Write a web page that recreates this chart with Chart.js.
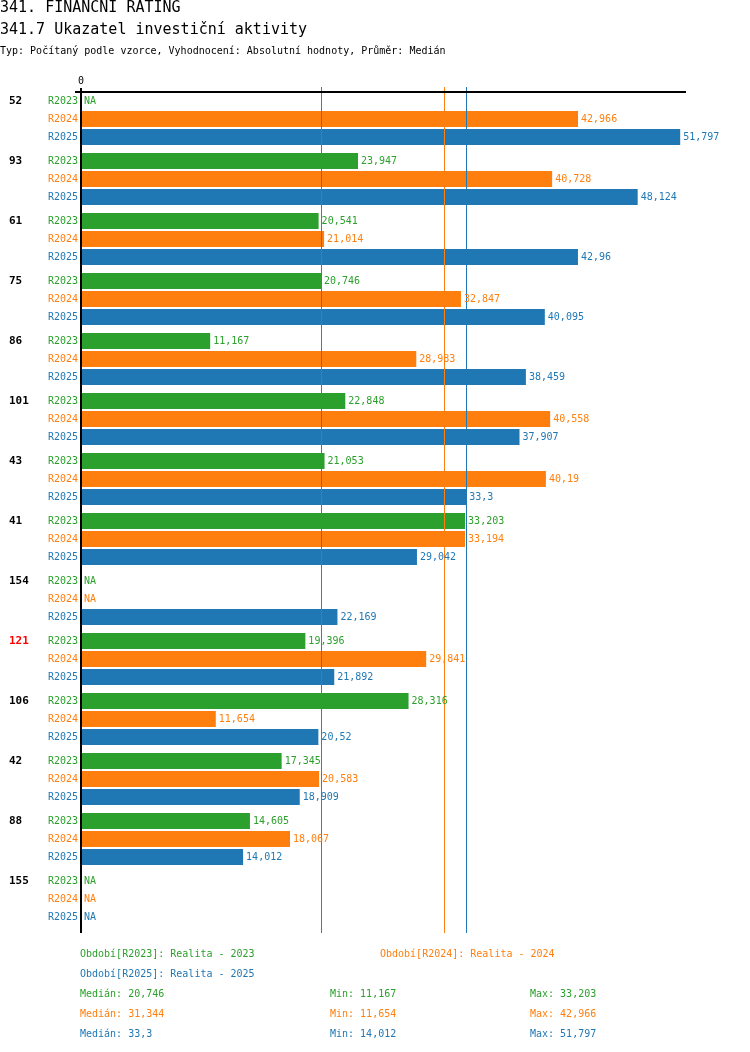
<!DOCTYPE html>
<html>
<head>
<meta charset="utf-8">
<script src="https://cdn.jsdelivr.net/npm/chart.js@4"></script>
<style>
    body { margin: 0; background: #fff; }
    #wrap { position: relative; width: 750px; height: 1052px; }
    #c { position: absolute; left: 0; top: 0; }
</style>
</head>
<body>
<div id="wrap"><canvas id="c" width="750" height="1052"></canvas></div>
<script>
/* data */
const groups = ['52', '93', '61', '75', '86', '101', '43', '41', '154', '121', '106', '42', '88', '155'];
const highlight = '121';
const seriesNames = ['R2023', 'R2024', 'R2025'];
const r2023 = [null, 23.947, 20.541, 20.746, 11.167, 22.848, 21.053, 33.203, null, 19.396, 28.316, 17.345, 14.605, null];
const r2024 = [42.966, 40.728, 21.014, 32.847, 28.983, 40.558, 40.19, 33.194, null, 29.841, 11.654, 20.583, 18.067, null];
const r2025 = [51.797, 48.124, 42.96, 40.095, 38.459, 37.907, 33.3, 29.042, 22.169, 21.892, 20.52, 18.909, 14.012, null];
const medians = [20.746, 31.344, 33.3];
const mins = [11.167, 11.654, 14.012];
const maxs = [33.203, 42.966, 51.797];
const periodTexts = ['Období[R2023]: Realita - 2023', 'Období[R2024]: Realita - 2024', 'Období[R2025]: Realita - 2025'];
const colors = ['#2ca02c', '#ff7f0e', '#1f77b4'];

const fmt = (v) => String(v).replace('.', ',');
const mono = 'DejaVu Sans Mono, monospace';

const overlay = {
    id: 'overlay',
    afterDraw(chart) {
        const ctx = chart.ctx;
        const x = chart.scales.x, y = chart.scales.y;
        const area = chart.chartArea;
        ctx.save();
        // titles
        ctx.fillStyle = '#000';
        ctx.textBaseline = 'middle';
        ctx.textAlign = 'left';
        ctx.font = '15px ' + mono;
        ctx.fillText('341. FINANČNÍ RATING', 0, 8);
        ctx.fillText('341.7 Ukazatel investiční aktivity', 0, 30);
        ctx.font = '10px ' + mono;
        ctx.fillText('Typ: Počítaný podle vzorce, Vyhodnocení: Absolutní hodnoty, Průměr: Medián', 0, 51);

        const x0 = x.getPixelForValue(0);
        // median lines
        medians.forEach((m, i) => {
            ctx.strokeStyle = colors[i];
            ctx.lineWidth = 1;
            const px = Math.round(x.getPixelForValue(m)) + 0.5;
            ctx.beginPath(); ctx.moveTo(px, 87); ctx.lineTo(px, 933); ctx.stroke();
        });
        // axes
        ctx.strokeStyle = '#000';
        ctx.lineWidth = 2;
        ctx.beginPath(); ctx.moveTo(75, 92); ctx.lineTo(area.right, 92); ctx.stroke();
        ctx.beginPath(); ctx.moveTo(x0, 88); ctx.lineTo(x0, 933); ctx.stroke();
        ctx.font = '10px ' + mono;
        ctx.textAlign = 'center';
        ctx.fillText('0', x0, 81);

        // row labels and value labels
        chart.data.datasets.forEach((ds, di) => {
            const meta = chart.getDatasetMeta(di);
            meta.data.forEach((bar, gi) => {
                const cy = bar.y;
                ctx.fillStyle = colors[di];
                ctx.font = '10px ' + mono;
                ctx.textAlign = 'right';
                ctx.fillText(seriesNames[di], 78, cy);
                ctx.textAlign = 'left';
                const v = ds.data[gi];
                if (v === null) ctx.fillText('NA', x0 + 3, cy);
                else ctx.fillText(fmt(v), x.getPixelForValue(v) + 3, cy);
                if (di === 0) {
                    ctx.font = 'bold 11px ' + mono;
                    ctx.fillStyle = groups[gi] === highlight ? '#ff0000' : '#000';
                    ctx.fillText(groups[gi], 9, cy);
                }
            });
        });

        // footer
        ctx.font = '10px ' + mono;
        ctx.textAlign = 'left';
        ctx.fillStyle = colors[0]; ctx.fillText(periodTexts[0], 80, 954);
        ctx.fillStyle = colors[1]; ctx.fillText(periodTexts[1], 380, 954);
        ctx.fillStyle = colors[2]; ctx.fillText(periodTexts[2], 80, 974);
        medians.forEach((m, i) => {
            const yy = 994 + i * 20;
            ctx.fillStyle = colors[i];
            ctx.fillText('Medián: ' + fmt(m), 80, yy);
            ctx.fillText('Min: ' + fmt(mins[i]), 330, yy);
            ctx.fillText('Max: ' + fmt(maxs[i]), 530, yy);
        });
        ctx.restore();
    },
};

new Chart(document.getElementById('c').getContext('2d'), {
    type: 'bar',
    data: {
        labels: groups,
        datasets: [r2023, r2024, r2025].map((d, i) => ({
            label: seriesNames[i],
            data: d,
            backgroundColor: colors[i],
            categoryPercentage: 0.9,
            barPercentage: 0.89,
        })),
    },
    options: {
        indexAxis: 'y',
        responsive: false,
        animation: false,
        layout: { padding: { left: 81, right: 64, top: 89, bottom: 123 } },
        plugins: { legend: { display: false }, tooltip: { enabled: false } },
        scales: {
            x: { display: false, min: 0, max: 52.3 },
            y: { display: false },
        },
    },
    plugins: [overlay],
});
</script>
</body>
</html>
